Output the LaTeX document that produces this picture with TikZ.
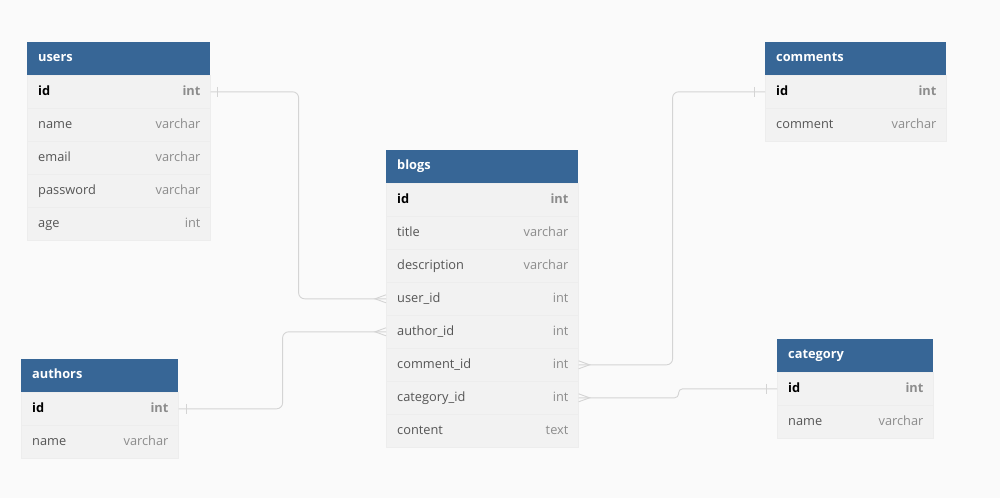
\documentclass[tikz,border=0pt]{standalone}
\usepackage{fontspec}
\setmainfont{Open Sans}
\usetikzlibrary{positioning}
\definecolor{hdrblue}{HTML}{376696}
\definecolor{rowgray}{HTML}{F2F2F2}
\definecolor{rowline}{HTML}{EDEDED}
\definecolor{pagebg}{HTML}{FAFAFA}
\definecolor{fieldtxt}{HTML}{555555}
\definecolor{typetxt}{HTML}{8C8C8C}
\definecolor{linkgray}{HTML}{D4D4D4}
\tikzset{
  hdr/.style={fill=hdrblue, minimum height=33, inner sep=0, anchor=north west}, % table header bar
  row/.style={fill=rowgray, draw=rowline, line width=0.6, minimum height=33, inner sep=0, anchor=north west},
  txt/.style={inner sep=0, text height=6.5, text depth=0, font=\fontsize{12.8}{14}\selectfont},
  hdrtitle/.style={txt, anchor=west, text=white, font=\fontsize{12.8}{14}\selectfont\bfseries},
  fldname/.style={txt, anchor=west, text=fieldtxt},
  fldtype/.style={txt, anchor=east, text=typetxt},
  keyname/.style={fldname, text=black, font=\fontsize{12.8}{14}\selectfont\bfseries},
  keytype/.style={fldtype, font=\fontsize{12.8}{14}\selectfont\bfseries},
  link/.style={draw=linkgray, line width=0.9},
}
% name, x, y, width, key/field/type list
\newcommand{\dbtable}[5]{%
  \node[hdr, minimum width=#4] (#1) at (#2,#3) {};
  \node[hdrtitle] at ([xshift=11]#1.west) {#1};
  \foreach \k/\f/\t [count=\i] in {#5} {
    \node[row, minimum width=#4] (#1-\k) at (#2,{#3+33*\i}) {};
    \ifnum\i=1
      \node[keyname] at ([xshift=11]#1-\k.west) {\f};
      \node[keytype] at ([xshift=-10]#1-\k.east) {\t};
    \else
      \node[fldname] at ([xshift=11]#1-\k.west) {\f};
      \node[fldtype] at ([xshift=-10]#1-\k.east) {\t};
    \fi
  }
}

\begin{document}
\begin{tikzpicture}[x=1pt, y=-1pt]
    \fill[pagebg] (0,0) rectangle (1000,498);
    \useasboundingbox (0,0) rectangle (1000,498);

    % tables
    \dbtable{users}{27}{42}{183}{id/id/int, name/name/varchar, email/email/varchar, password/password/varchar, age/age/int}
    \dbtable{comments}{765}{42}{181}{id/id/int, comment/comment/varchar}
    \dbtable{blogs}{386}{150}{192}{id/id/int, title/title/varchar, description/description/varchar, userid/user\_id/int, authorid/author\_id/int, commentid/comment\_id/int, categoryid/category\_id/int, content/content/text}
    \dbtable{authors}{21}{359}{157}{id/id/int, name/name/varchar}
    \dbtable{category}{777}{339}{156}{id/id/int, name/name/varchar}

    % relations
    \draw[link, rounded corners=6] (users-id.east) -- ++(88,0) |- (blogs-userid.west);
    \draw[link, rounded corners=6] (authors-id.east) -- ++(104,0) |- (blogs-authorid.west);
    \draw[link, rounded corners=6] (blogs-commentid.east) -- ++(94,0) |- (comments-id.west);
    \draw[link, rounded corners=4] (blogs-categoryid.east) -- ++(100,0) |- (category-id.west);

    % one side
    \draw[link] ([xshift=7,yshift=5]users-id.east) -- ([xshift=7,yshift=-5]users-id.east);
    \draw[link] ([xshift=8,yshift=5]authors-id.east) -- ([xshift=8,yshift=-5]authors-id.east);
    \draw[link] ([xshift=-11,yshift=5]comments-id.west) -- ([xshift=-11,yshift=-5]comments-id.west);
    \draw[link] ([xshift=-11,yshift=5]category-id.west) -- ([xshift=-11,yshift=-5]category-id.west);

    % many side
    \draw[link] ([yshift=4]blogs-userid.west) -- ([xshift=-11]blogs-userid.west) -- ([yshift=-4]blogs-userid.west);
    \draw[link] ([yshift=4]blogs-authorid.west) -- ([xshift=-11]blogs-authorid.west) -- ([yshift=-4]blogs-authorid.west);
    \draw[link] ([yshift=4]blogs-commentid.east) -- ([xshift=11]blogs-commentid.east) -- ([yshift=-4]blogs-commentid.east);
    \draw[link] ([yshift=4]blogs-categoryid.east) -- ([xshift=11]blogs-categoryid.east) -- ([yshift=-4]blogs-categoryid.east);
\end{tikzpicture}
\end{document}
